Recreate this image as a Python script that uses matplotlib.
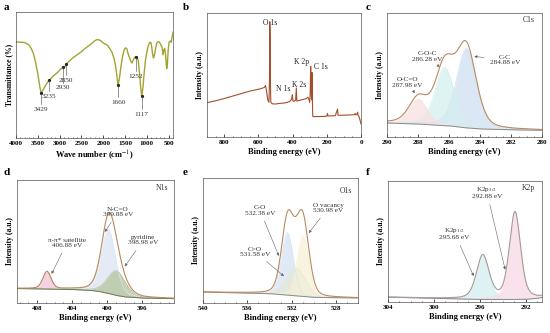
import numpy as np
import matplotlib
matplotlib.use('Agg')
import matplotlib.pyplot as plt

plt.rcParams['font.family'] = ['Liberation Serif', 'DejaVu Serif']
plt.rcParams['mathtext.fontset'] = 'stix'

# -------------------- a: FTIR --------------------
ftir_wn = [4000, 3900, 3800, 3700, 3650, 3600, 3550, 3500, 3460, 3429, 3400, 3350, 3300, 3235,
           3150, 3050, 2980, 2930, 2900, 2870, 2850, 2780, 2700, 2600, 2500, 2400, 2300, 2200,
           2150, 2100, 2050, 2000, 1900, 1850, 1800, 1750, 1720, 1690, 1660, 1630, 1600, 1560,
           1520, 1490, 1460, 1430, 1400, 1370, 1340, 1310, 1280, 1252, 1230, 1200, 1170, 1140,
           1117, 1090, 1060, 1030, 1000, 970, 940, 910, 890, 870, 850, 830, 800, 770, 740, 710,
           680, 650, 630, 610, 590, 570, 545, 530, 510, 490, 460, 440, 420, 400]
ftir_t = [76.3, 76, 75.8, 73.7, 71, 67, 60, 51, 42, 36, 37, 40, 43, 46,
          49, 52, 54.5, 56, 55.5, 57, 58.5, 61, 63.5, 66, 68.5, 71.5, 74, 77,
          78, 78, 77, 75.5, 73.5, 71, 68, 63, 58, 50, 42, 47, 55, 64,
          70, 71.5, 71, 67, 64, 61, 59.5, 62, 64, 64.5, 64, 62, 52, 40,
          33, 40, 52, 62, 68, 73, 75.5, 76, 73, 67, 63.5, 65, 71, 75.5, 76.5, 76,
          74, 72, 66, 70, 71, 66, 55, 58, 70, 76, 77, 76, 80, 84]
ftir_marks = [3429, 3235, 2930, 2850, 1660, 1252, 1117]
ftir_label_y = [23, 33, 40, 46, 28.5, 49, 19]

# -------------------- b: XPS survey --------------------
surv_be = [900, 850, 800, 750, 700, 650, 600, 580, 565, 558, 552, 545, 538, 535, 533, 531,
           529, 527, 520, 500, 480, 460, 440, 420, 410, 405, 401, 398, 390, 382, 378, 375,
           360, 340, 320, 310, 305, 300, 297, 294, 292, 289, 286, 284, 282, 280, 250, 220,
           200, 196, 193, 180, 150, 137, 134, 100, 60, 40, 35, 32, 25, 20, 17, 10, 0]
surv_i = [27.7, 29.2, 31, 33, 35, 37, 38.5, 39.2, 40, 41.5, 37, 30, 28, 45, 93, 80,
          40, 28, 26.8, 26.6, 27, 27.3, 27.6, 28.5, 29.5, 31, 34, 29, 28.8, 30, 39.5, 29,
          29.5, 30.2, 31, 32, 30.5, 28, 35, 57, 40, 30, 52, 30, 17, 16.4, 16.5, 16.6,
          16.8, 19, 17, 17, 17.2, 22.5, 17.5, 17.6, 17.8, 18, 19, 18, 18, 20, 17.5, 16, 10.5]
surv_names = ['O 1s', 'N 1s', 'K 2s', 'K 2p', 'C 1s']
surv_label_x = [530, 456, 362, 345, 236]
surv_label_y = [92, 39, 42, 60.5, 56.5]

# -------------------- c: C 1s --------------------
c_names = ['C-C\n284.88 eV', 'C-O-C\n286.28 eV', 'O-C=O\n287.98 eV']
c_center = [284.88, 286.28, 287.98]
c_height = [64, 47, 20]
c_fwhm = [1.5, 1.45, 1.4]
c_fill = ['#cfe0f2', '#d6eff0', '#f9e0e0']
c_bg_x = [290, 288, 286, 285, 284, 282, 280]
c_bg_y = [11.3, 10.5, 9, 7.5, 6.5, 5.8, 5.4]

# -------------------- d: N 1s --------------------
d_names = ['π-π* satellite\n406.88 eV', 'N-C=O\n399.88 eV', 'pyridine\n398.98 eV']
d_center = [406.88, 399.88, 398.98]
d_height = [14, 52, 20]
d_fwhm = [1.1, 1.9, 2.4]
d_fill = ['#f0c3dc', '#dce5f3', '#b3c39c']
d_bg_x = [410.5, 404, 402, 401, 400, 399, 398, 396, 392]
d_bg_y = [11.8, 11, 10.3, 9.5, 8, 6.2, 5, 4, 3.5]

# -------------------- e: O 1s --------------------
e_names = ['C-O\n532.38 eV', 'C=O\n531.58 eV', 'O vacancy\n530.98 eV']
e_center = [532.38, 531.58, 530.98]
e_height = [50, 22, 48]
e_fwhm = [1.25, 2.0, 1.25]
e_fill = ['#d6e3f4', '#e3e8d6', '#f6f1d6']
e_bg_x = [540, 534, 532, 530, 526]
e_bg_y = [8.8, 7.5, 6, 4.5, 4]

# -------------------- f: K 2p --------------------
f_names = ['K2p$_{1/2}$\n295.68 eV', 'K2p$_{3/2}$\n292.88 eV']
f_center = [295.75, 292.95]
f_height = [36, 72]
f_fwhm = [1.3, 1.15]
f_fill = ['#d5eef0', '#f8d9e6']
f_bg_x = [304, 300, 297, 294, 292, 291, 290.5]
f_bg_y = [4, 3, 2.2, 2, 2.2, 3, 4]


def gl(x, c, h, w, m=0.3):
    g = np.exp(-4 * np.log(2) * (x - c) ** 2 / w ** 2)
    l = 1 / (1 + 4 * (x - c) ** 2 / w ** 2)
    return h * ((1 - m) * g + m * l)


def style(ax, xlim, xticks, ylabel='Intensity (a.u.)', xlabel='Binding energy (eV)'):
    ax.set_xlim(*xlim)
    ax.set_ylim(0, 100)
    ax.set_xticks(xticks)
    ax.set_yticks([])
    ax.minorticks_on()
    ax.yaxis.set_tick_params(which='both', left=False)
    ax.tick_params(axis='x', which='major', direction='in', length=2, width=0.5, pad=2,
                   labelsize=5)
    ax.tick_params(axis='x', which='minor', direction='in', length=1, width=0.4)
    for lab in ax.get_xticklabels():
        lab.set_fontweight('bold')
    for s in ax.spines.values():
        s.set_linewidth(0.5)
        s.set_color('#555555')
    ax.set_xlabel(xlabel, fontsize=6, fontweight='bold', labelpad=2)
    ax.set_ylabel(ylabel, fontsize=5.5, fontweight='bold', labelpad=2)


def xps(ax, xlim, centers, heights, fwhms, fills, bgx, bgy, env_color, bg_color, m=0.3):
    x = np.linspace(xlim[0], xlim[1], 800)
    bg = np.interp(x, bgx[::-1], bgy[::-1])
    env = bg.copy()
    for c, h, w, fc in zip(centers, heights, fwhms, fills):
        y = gl(x, c, h, w, m)
        ax.fill_between(x, bg, bg + y, color=fc, alpha=0.75, lw=0)
        ax.plot(x, bg + y, color=fc, lw=0.5)
        env += y
    ax.plot(x, bg, color=bg_color, lw=0.7)
    ax.plot(x, env, color=env_color, lw=0.8)

    def at(xx):
        return float(np.interp(xx, x[::-1], env[::-1]))
    return at


arrow = dict(arrowstyle='-|>', color='#666666', lw=0.4, mutation_scale=4)
tkw = dict(fontsize=5.2, color='#333333', ha='center', va='center', linespacing=1.1)

fig = plt.figure(figsize=(5.5, 3.33), dpi=100)
W, H = 550, 333


def box(x0, y0, x1, y1):
    return fig.add_axes([x0 / W, 1 - y1 / H, (x1 - x0) / W, (y1 - y0) / H])


# a
ax = box(16, 12, 173, 138)
ax.plot(ftir_wn, ftir_t, color='#a3a332', lw=1.0)
for w, ly in zip(ftir_marks, ftir_label_y):
    t = ftir_t[ftir_wn.index(w)]
    ax.plot([w], [t], 'o', color='#222222', ms=1.3)
    ax.plot([w, w], [t, ly + 4], color='#444444', lw=0.4)
    ax.text(w, ly, str(w), **tkw)
style(ax, (4000, 400), [4000, 3500, 3000, 2500, 2000, 1500, 1000, 500],
      ylabel='Transmittance (%)', xlabel='Wave number (cm$^{-1}$)')

# b
ax = box(207, 13, 361, 137)
ax.plot(surv_be, surv_i, color='#a44e2c', lw=0.8)
for n, lx, ly in zip(surv_names, surv_label_x, surv_label_y):
    ax.text(lx, ly, n, fontsize=5.5, color='#222222', ha='center', va='center')
style(ax, (900, 0), [800, 600, 400, 200, 0])

# c
ax = box(387, 13, 542, 137)
at = xps(ax, (290, 280), c_center, c_height, c_fwhm, c_fill, c_bg_x, c_bg_y,
         '#b98a62', '#8a8a8a')
ax.annotate(c_names[0], xy=(284.55, at(284.55)), xytext=(282.4, 62), arrowprops=arrow, **tkw)
ax.annotate(c_names[1], xy=(286.6, at(286.6)), xytext=(287.4, 65), arrowprops=arrow, **tkw)
ax.annotate(c_names[2], xy=(288.1, at(288.1)), xytext=(288.7, 44), arrowprops=arrow, **tkw)
ax.text(280.5, 94, 'C1s', fontsize=5.5, color='#333333', ha='right', va='center')
style(ax, (290, 280), [290, 288, 286, 284, 282, 280])

# d
ax = box(17, 180, 174, 303)
at = xps(ax, (410.3, 392.4), d_center, d_height, d_fwhm, d_fill, d_bg_x, d_bg_y,
         '#b8895a', '#6b7a55')
ax.annotate(d_names[0], xy=(406.5, at(406.5)), xytext=(404.6, 49), arrowprops=arrow, **tkw)
ax.annotate(d_names[1], xy=(400.45, at(400.45)), xytext=(398.8, 74), arrowprops=arrow, **tkw)
ax.annotate(d_names[2], xy=(398.2, at(398.2)), xytext=(395.9, 51), arrowprops=arrow, **tkw)
ax.text(393.0, 93.5, 'N1s', fontsize=5.5, color='#333333', ha='right', va='center')
style(ax, (410.3, 392.4), [408, 404, 400, 396])

# e
ax = box(203, 178, 358, 303)
at = xps(ax, (540, 526), e_center, e_height, e_fwhm, e_fill, e_bg_x, e_bg_y,
         '#b98a5e', '#8a8a8a', m=0.2)
ax.annotate(e_names[0], xy=(533.05, at(533.05)), xytext=(534.85, 74), arrowprops=arrow, **tkw)
ax.annotate(e_names[1], xy=(532.5, 20), xytext=(535.3, 41), arrowprops=arrow, **tkw)
ax.annotate(e_names[2], xy=(530.6, at(530.6)), xytext=(528.7, 76), arrowprops=arrow, **tkw)
ax.text(526.5, 90, 'O1s', fontsize=5.5, color='#333333', ha='right', va='center')
style(ax, (540, 526), [540, 536, 532, 528])

# f
ax = box(388, 181, 542, 302)
at = xps(ax, (304, 290.6), f_center, f_height, f_fwhm, f_fill, f_bg_x, f_bg_y,
         '#a89a96', '#8a8a8a', m=0.4)
ax.annotate(f_names[0], xy=(296.45, at(296.45)), xytext=(298.2, 57), arrowprops=arrow, **tkw)
ax.annotate(f_names[1], xy=(293.75, at(293.75)), xytext=(295.4, 91), arrowprops=arrow, **tkw)
ax.text(291.2, 94, 'K2p', fontsize=5.5, color='#333333', ha='right', va='center')
style(ax, (304, 290.6), [304, 300, 296, 292])

for lab, px, py in [('a', 4, 7), ('b', 183, 7), ('c', 366, 7),
                    ('d', 4, 173), ('e', 183, 173), ('f', 366, 173)]:
    fig.text(px / W, 1 - py / H, lab, fontsize=8, fontweight='bold', va='center')

fig.savefig('out.png', dpi=100)
